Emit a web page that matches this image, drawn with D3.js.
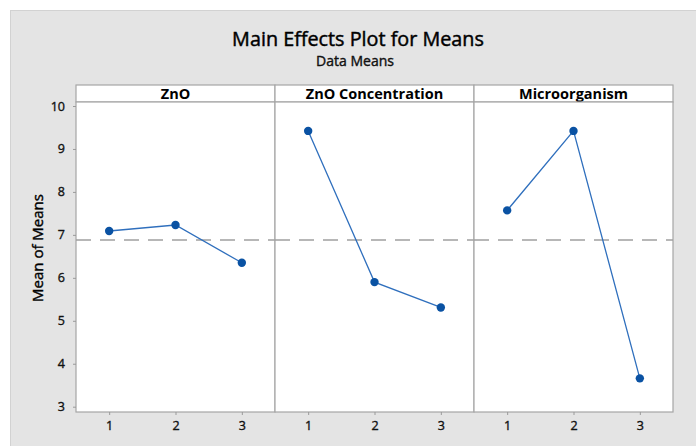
<!DOCTYPE html>
<html>
<head>
<meta charset="utf-8">
<script src="https://cdn.jsdelivr.net/npm/d3@7"></script>
<style>
  html, body { margin: 0; padding: 0; background: #ffffff; }
  svg { display: block; }
  text { font-family: "Open Sans", "Noto Sans", sans-serif; }
</style>
</head>
<body>
<svg id="chart" width="696" height="446"></svg>
<script>
// ---- data ----
const factors = ["ZnO", "ZnO Concentration", "Microorganism"];
const levels = ["1", "2", "3"];
const znoMeans = [7.09, 7.23, 6.35];
const concentrationMeans = [9.42, 5.90, 5.31];
const microorganismMeans = [7.57, 9.42, 3.66];
const grandMean = 6.88;
const yTicks = [3, 4, 5, 6, 7, 8, 9, 10];
const titleText = "Main Effects Plot for Means";
const subtitleText = "Data Means";
const yLabelText = "Mean of Means";

const seriesByFactor = [znoMeans, concentrationMeans, microorganismMeans];

// ---- layout ----
const W = 696, H = 446;
const plotLeft = 76, plotRight = 673;
const headerTop = 85, plotTop = 102, plotBottom = 412;
const panelW = (plotRight - plotLeft) / factors.length;

const svg = d3.select("#chart");

// background
svg.append("rect").attr("x", 0).attr("y", 0).attr("width", W).attr("height", H).attr("fill", "#ffffff");
svg.append("rect").attr("x", 10.5).attr("y", 10.5).attr("width", W - 10).attr("height", H - 10)
  .attr("fill", "#e4e4e4").attr("stroke", "#d2d2d2").attr("stroke-width", 1);

// titles
svg.append("text").attr("x", 358).attr("y", 46).attr("text-anchor", "middle")
  .attr("font-size", 19.8).attr("fill", "#000")
  .attr("stroke", "#000").attr("stroke-width", 0.45).text(titleText);
svg.append("text").attr("x", 355).attr("y", 66).attr("text-anchor", "middle")
  .attr("font-size", 14).attr("fill", "#111")
  .attr("stroke", "#111").attr("stroke-width", 0.4).text(subtitleText);

// y scale
const y = d3.scaleLinear().domain([3, 10]).range([406.7, 106]);

// panels
factors.forEach((f, i) => {
  const x0 = plotLeft + i * panelW;
  const x = d3.scaleLinear().domain([0.5, 3.5]).range([x0, x0 + panelW]);
  const g = svg.append("g");

  // header strip
  g.append("rect").attr("x", x0).attr("y", headerTop).attr("width", panelW).attr("height", plotTop - headerTop)
    .attr("fill", "#ffffff").attr("stroke", "#a6a6a6").attr("stroke-width", 1.2);
  g.append("text").attr("x", x0 + panelW / 2).attr("y", 99).attr("text-anchor", "middle")
    .attr("font-size", 14.5).attr("font-weight", 700).attr("fill", "#000").text(f);

  // plot area
  g.append("rect").attr("x", x0).attr("y", plotTop).attr("width", panelW).attr("height", plotBottom - plotTop)
    .attr("fill", "#ffffff").attr("stroke", "#a6a6a6").attr("stroke-width", 1.2);

  // x axis
  const xAxis = d3.axisBottom(x).tickValues([1, 2, 3]).tickFormat((d, k) => levels[k])
    .tickSize(3).tickPadding(6).tickSizeOuter(0);
  const ax = g.append("g").attr("transform", `translate(0,${plotBottom})`).call(xAxis);
  ax.select(".domain").remove();
  ax.selectAll(".tick line").attr("stroke", "#9a9a9a");
  ax.selectAll(".tick text").attr("font-size", 12.5).attr("fill", "#111")
    .attr("stroke", "#111").attr("stroke-width", 0.35)
    .style("font-family", "'Open Sans', sans-serif");

  // grand mean reference line
  g.append("line").attr("x1", x0).attr("x2", x0 + panelW)
    .attr("y1", y(grandMean)).attr("y2", y(grandMean))
    .attr("stroke", "#a0a0a0").attr("stroke-width", 1.5).attr("stroke-dasharray", "15,9");

  // series
  const vals = seriesByFactor[i];
  const pts = vals.map((v, k) => [k + 1, v]);
  g.append("path").datum(pts)
    .attr("d", d3.line().x(d => x(d[0])).y(d => y(d[1])))
    .attr("fill", "none").attr("stroke", "#2f6fbd").attr("stroke-width", 1.3);
  g.selectAll("circle").data(pts).enter().append("circle")
    .attr("cx", d => x(d[0])).attr("cy", d => y(d[1])).attr("r", 4.2)
    .attr("fill", "#0a52a3");
});

// y axis
const yAxis = d3.axisLeft(y).tickValues(yTicks).tickFormat(d3.format("d"))
  .tickSize(3).tickPadding(8).tickSizeOuter(0);
const ay = svg.append("g").attr("transform", `translate(${plotLeft},0)`).call(yAxis);
ay.select(".domain").remove();
ay.selectAll(".tick line").attr("stroke", "#9a9a9a");
ay.selectAll(".tick text").attr("font-size", 12.5).attr("fill", "#111")
  .attr("stroke", "#111").attr("stroke-width", 0.35)
  .style("font-family", "'Open Sans', sans-serif");

// y label
svg.append("text").attr("transform", "translate(43,248) rotate(-90)").attr("text-anchor", "middle")
  .attr("font-size", 15).attr("fill", "#000")
  .attr("stroke", "#000").attr("stroke-width", 0.4).text(yLabelText);
</script>
</body>
</html>
